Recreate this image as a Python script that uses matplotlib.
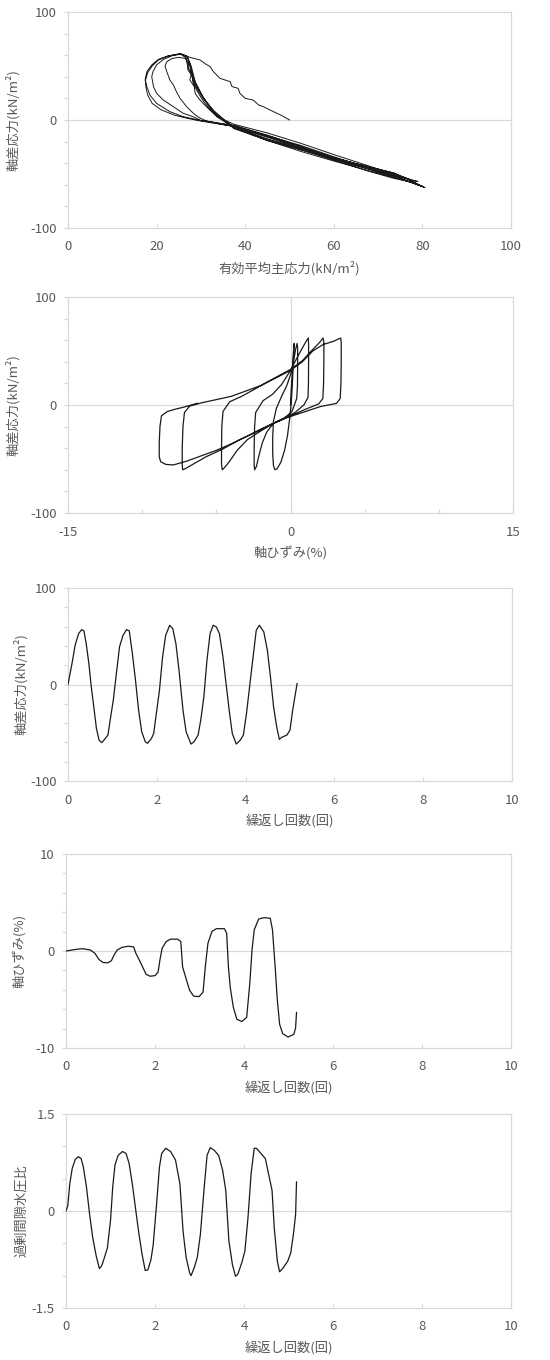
import numpy as np
import matplotlib
matplotlib.use('Agg')
import matplotlib.pyplot as plt

plt.rcParams['font.family'] = ['Noto Sans CJK JP', 'DejaVu Sans']

# --- cyclic triaxial test ---

# effective mean principal stress p' vs deviator stress q (stress path)
p_path = [50, 48.3, 46.4, 44.1, 43, 41.8, 40, 38.8, 38.4, 37, 36.6, 34.3, 33.5, 32.8, 32.1, 31, 29.8, 27.5, 25.7,
          26.5, 27.2, 27, 27.8, 27.5, 28.5, 28.7, 29.5, 30.5, 32, 33.6, 37.5, 45, 52.5, 60, 67.5, 73.5, 77.2, 78.5, 79,
          77, 73.5, 67.5, 60, 52.5, 45, 37.5, 33.5, 31, 29.5, 28.3, 26.8, 25.3, 24.5, 23.8, 23, 22.3, 21.9, 22.3, 23.5, 25,
          26.5, 27.5, 28, 28.2, 29, 30, 31, 32.5, 34, 37.5, 45, 52.5, 60, 67.5, 73.5, 77, 79.5, 80,
          78.5, 73.5, 67.5, 60, 52.5, 45, 37.5, 33, 30, 28.3, 26, 23.8, 21.5, 20, 19.3, 18.9, 19.2, 20, 21.5, 23.5, 25.5,
          27, 27.8, 28.3, 28.8, 29.8, 31, 32.5, 34.5, 37.5, 45, 52.5, 60, 67.5, 73.5, 77, 79.8, 80.6,
          79.5, 77, 73.5, 67.5, 60, 52.5, 45, 37.5, 33, 30, 27, 24, 21, 19, 18, 17.6, 17.5, 18, 19, 20.4, 22.6, 25.3,
          26.8, 27.5, 28, 28.5, 29.5, 30.5, 32, 33.6, 37.5, 45, 52.5, 60, 67.5, 73.5, 77.2, 79.8, 80.3,
          79, 76.5, 73.5, 67.5, 60, 52.5, 45, 37.5, 32.8, 29.8, 26, 23, 20, 18.5, 17.8, 17.4, 17.8, 18.9, 20.4, 22.6, 25.3,
          26.6, 27, 27.8, 28.3, 29.3, 30.5, 32, 33.5, 37.5, 45, 52.5, 60, 67.5, 73.5, 76.5, 78, 79,
          77.5, 73.5, 67.5, 60, 52.5, 45, 37.5, 33, 30.5, 28.5]
q_path = [0, 4, 7.7, 12.3, 14, 18.5, 20, 24.7, 29.3, 31, 35.5, 38.6, 42, 44.8, 49.4, 52, 55.6, 58, 61.1,
          58, 52, 47, 42, 37, 31, 24.7, 20, 15.4, 9.3, 3.1, -4, -12, -21.5, -32, -42, -50, -55, -58.5, -60,
          -57, -54, -47, -37, -26.5, -16, -6, -3, -0.5, 2.5, 6.2, 12.3, 20, 26, 32.4, 37, 44.8, 50, 54, 57, 58,
          57, 50, 42, 35, 28, 21, 15, 8, 2, -7.5, -18, -26.5, -35, -43, -49, -55.5, -60.5, -61.5,
          -59, -53, -45, -36, -25.5, -15, -6, -2.5, -0.5, 3, 6.2, 12.3, 18.5, 24.7, 30.9, 40, 45, 51, 56, 59.5, 61,
          58.5, 50, 42, 34, 26, 18, 10, 3, -8, -19, -27.5, -36, -44, -51, -57, -61, -62.7,
          -61, -57, -52, -44, -34, -23.5, -14.5, -6, -3, -1, 1.5, 4.5, 9.5, 15.4, 23, 30, 37, 44, 50, 55.5, 59.3, 61.5,
          59, 52, 44, 37, 29, 21, 13, 5, -7, -19, -29, -38, -46.5, -53, -57.5, -61.2, -62,
          -60, -54, -49, -43, -35, -24.5, -14, -5, -2, -0.3, 3.1, 7.7, 15.4, 23, 30.9, 37, 44.8, 50.9, 56.2, 59.3, 61.1,
          58, 50, 43, 36, 28, 20, 12, 5, -6.5, -17.5, -27.5, -37, -45, -51, -54.5, -56, -57,
          -55.5, -50, -43.5, -35.5, -25.5, -15, -5.5, -2.5, -0.8, 0.6]

# axial strain vs deviator stress (hysteresis loops)
eps_loop = [0, 0.05, 0.12, 0.18, 0.22, 0.25,
            0.22, 0.18, 0.12, 0.05, -0.05, -0.2, -0.4, -0.65, -0.9, -1.05,
            -1.15, -1.2, -1.2, -1.15, -0.95, -0.6, -0.25, 0, 0.2, 0.35, 0.45,
            0.48, 0.48, 0.47, 0.42, 0.1, -0.4, -1.15, -1.6, -1.9, -2.15, -2.3, -2.42,
            -2.45, -2.45, -2.42, -2.35, -1.85, -1.2, -0.6, 0, 0.45, 0.85, 1.1, 1.2,
            1.22, 1.22, 1.21, 1.18, 0.9, 0.3, -0.4, -1.15, -2.0, -2.9, -3.6, -4.1, -4.45, -4.6,
            -4.65, -4.65, -4.63, -4.55, -4.1, -3.3, -2.5, -1.6, -0.8, 0, 0.8, 1.4, 1.9, 2.2,
            2.25, 2.25, 2.23, 2.18, 1.9, 1.0, 0, -1.15, -2.3, -3.4, -4.6, -5.7, -6.6, -7.1, -7.27,
            -7.3, -7.3, -7.25, -7.15, -6.8, -6.0, -5.0, -4.0, -3.0, -2.0, -1.0, 0, 0.8, 1.5, 2.2, 2.9, 3.39,
            3.42, 3.42, 3.4, 3.35, 3.1, 2.0, 0.65, -0.3, -1.15, -2.1, -2.95, -4.0, -5.0, -6.0, -7.0, -7.9, -8.4, -8.75,
            -8.85, -8.85, -8.8, -8.7, -8.3, -7.8, -7.2, -6.28]
q_loop = [0, 15, 30, 45, 53, 57,
          50, 35, 18, 2, -12, -28, -42, -53, -59, -60,
          -56, -45, -30, -15, -3, 8, 18, 28, 40, 52, 57,
          52, 35, 18, 6, -6, -12, -17, -25, -35, -48, -57, -60,
          -55, -40, -20, -7, 4, 10, 19, 32, 44, 54, 60, 62,
          56, 40, 20, 7, 0, -7, -12, -17, -24, -32, -42, -52, -58, -60,
          -55, -40, -20, -6, 3, 8, 14, 21, 27, 33, 41, 50, 57, 62,
          58, 40, 20, 6, 1, -4, -10, -17, -25, -32, -41, -48, -55, -59, -60,
          -55, -40, -20, -7, -1, 2, 5, 8, 13, 18, 25, 32, 40, 50, 56, 59, 62,
          57, 40, 20, 6, 1.5, -1.5, -7.7, -12, -17, -23, -29, -36, -42, -47, -52, -55.5, -55, -52.6,
          -48, -35, -20, -10, -6, -4, -2, 1.6]

# number of cycles vs deviator stress
n_q = [0, 0.09, 0.16, 0.24, 0.31, 0.36, 0.41, 0.47, 0.52, 0.58, 0.64, 0.70, 0.76, 0.81, 0.90, 0.95,
       1.02, 1.09, 1.16, 1.24, 1.32, 1.38, 1.45, 1.52, 1.59, 1.66, 1.74, 1.79, 1.88, 1.93, 1.99,
       2.06, 2.13, 2.20, 2.29, 2.36, 2.43, 2.50, 2.59, 2.66, 2.77, 2.84, 2.93, 2.99,
       3.06, 3.13, 3.20, 3.27, 3.34, 3.41, 3.49, 3.56, 3.63, 3.70, 3.79, 3.88, 3.95,
       4.02, 4.09, 4.16, 4.24, 4.31, 4.41, 4.49, 4.56, 4.63, 4.70, 4.76, 4.81, 4.93, 5.00, 5.06, 5.11, 5.16]
q_n = [0, 21.7, 40.7, 52.8, 56.9, 55.5, 42.4, 21.7, -0.7, -23, -45.5, -57.6, -60.3, -57.6, -52.4, -36.9,
       -16.2, 11.4, 39, 51, 56.9, 55.5, 32, 4.5, -26.6, -49, -59.3, -61, -55.9, -50.7, -30,
       -5.9, 28.6, 51, 61.4, 57.9, 42.4, 14.8, -26.6, -49, -61.7, -59.3, -52.4, -36.9,
       -12.8, 25.2, 52.8, 61.4, 59.7, 52.8, 28.6, 1, -26.6, -50.7, -61.7, -57.6, -52.4,
       -30, -2.4, 25.2, 56.2, 61.4, 54.5, 35.5, 7.9, -23, -43.8, -56.9, -54.8, -52.4, -47.2, -26.6, -12.8, 1]

# number of cycles vs axial strain (%)
n_eps = [0, 0.23, 0.37, 0.55, 0.65, 0.74, 0.83, 0.94, 1.02, 1.08, 1.15, 1.26, 1.40, 1.52, 1.57, 1.63,
         1.72, 1.80, 1.89, 2.00, 2.07, 2.11, 2.16, 2.25, 2.35, 2.51, 2.58, 2.62, 2.71, 2.78, 2.87, 2.99,
         3.08, 3.13, 3.19, 3.28, 3.38, 3.56, 3.61, 3.65, 3.69, 3.76, 3.84, 3.95, 4.06, 4.13, 4.18, 4.23,
         4.33, 4.45, 4.59, 4.64, 4.70, 4.75, 4.80, 4.87, 4.99, 5.12, 5.16, 5.18]
eps_n = [0, 0.17, 0.24, 0.1, -0.24, -0.87, -1.18, -1.22, -1.0, -0.42, 0.1, 0.38, 0.49, 0.42, -0.24, -0.77,
         -1.63, -2.4, -2.6, -2.54, -2.16, -0.94, 0.28, 0.97, 1.22, 1.22, 0.97, -1.63, -3.03, -4.07, -4.66, -4.7,
         -4.24, -1.63, 0.8, 2.02, 2.3, 2.3, 1.84, -1.63, -3.72, -5.8, -7.03, -7.27, -6.85, -3.37, 0.1, 2.19,
         3.3, 3.44, 3.37, 2.19, -1.63, -5.11, -7.55, -8.52, -8.87, -8.59, -7.9, -6.33]

# number of cycles vs excess pore water pressure ratio
n_ru = [0, 0.04, 0.085, 0.14, 0.21, 0.28, 0.34, 0.39, 0.46, 0.53, 0.60, 0.68, 0.75, 0.80, 0.85, 0.93,
        1.0, 1.05, 1.10, 1.17, 1.27, 1.35, 1.42, 1.49, 1.57, 1.64, 1.71, 1.78, 1.84, 1.91, 1.96,
        2.03, 2.10, 2.15, 2.24, 2.35, 2.46, 2.56, 2.63, 2.70, 2.78, 2.81, 2.88, 2.95,
        3.02, 3.10, 3.17, 3.24, 3.33, 3.43, 3.52, 3.59, 3.66, 3.74, 3.81, 3.86, 3.95,
        4.02, 4.09, 4.16, 4.23, 4.28, 4.38, 4.48, 4.55, 4.63, 4.68, 4.75, 4.80, 4.88, 4.98, 5.05, 5.11, 5.16, 5.18]
ru_n = [0, 0.08, 0.42, 0.66, 0.80, 0.84, 0.81, 0.68, 0.37, -0.05, -0.41, -0.70, -0.89, -0.85, -0.75, -0.57,
        -0.15, 0.37, 0.71, 0.86, 0.92, 0.89, 0.73, 0.42, 0.0, -0.36, -0.67, -0.92, -0.91, -0.75, -0.52,
        0.06, 0.68, 0.89, 0.97, 0.92, 0.79, 0.42, -0.31, -0.72, -0.96, -1.0, -0.88, -0.72,
        -0.36, 0.32, 0.86, 0.98, 0.94, 0.86, 0.63, 0.32, -0.46, -0.83, -1.01, -0.98, -0.80,
        -0.62, -0.10, 0.58, 0.97, 0.97, 0.89, 0.81, 0.58, 0.32, -0.26, -0.78, -0.94, -0.88, -0.78, -0.65, -0.36, -0.05, 0.45]

# --- figure layout (pixel boxes: left, right, top, bottom) ---
W, H = 550, 1360
boxes = [(68, 511, 12, 228), (68, 513, 297, 513), (68, 512, 588, 781), (66, 511, 854, 1048), (66, 511, 1114, 1308)]
ylabel_x = [20, 20, 28, 27, 28]   # right edge of the rotated y label, px

fig = plt.figure(figsize=(W / 100, H / 100), dpi=100)
axes = []
for (l, r, t, b) in boxes:
    axes.append(fig.add_axes([l / W, 1 - b / H, (r - l) / W, (b - t) / H]))

grey = '#d9d9d9'
txt = '#595959'
fs = 9.5


def style(ax, box, lx, xlim, xticks, xlabels, ylim, yticks, ylabels, xlabel, ylabel):
    l, r, t, b = box
    ax.set_xlim(xlim)
    ax.set_ylim(ylim)
    ax.set_xticks(xticks)
    ax.set_xticklabels(xlabels)
    ax.set_yticks(yticks)
    ax.set_yticklabels(ylabels)
    for s in ax.spines.values():
        s.set_color(grey)
        s.set_linewidth(0.9)
    ax.axhline(0, color=grey, lw=0.9, zorder=1)
    ax.tick_params(length=3, width=0.8, color=grey, labelcolor=txt, labelsize=fs)
    ax.tick_params(axis='x', direction='in', pad=9)
    ax.tick_params(axis='y', direction='out', pad=5)
    ax.set_xlabel(xlabel, color=txt, fontsize=fs)
    ax.set_ylabel(ylabel, color=txt, fontsize=fs)
    ax.xaxis.set_label_coords(0.5, -33 / (b - t))
    ax.yaxis.set_label_coords((lx - l) / (r - l), 0.5)


def sparse(vals, keep):
    return [(f'{v:g}' if v in keep else '') for v in vals]


q_ticks = list(range(-100, 101, 20))
n_ticks = list(range(0, 11, 2))
lw = 0.9
lc = '#1a1a1a'

ax = axes[0]
ax.plot(p_path, q_path, color=lc, lw=0.7, zorder=3)
style(ax, boxes[0], ylabel_x[0], (0, 100), list(range(0, 101, 20)), [str(v) for v in range(0, 101, 20)],
      (-100, 100), q_ticks, sparse(q_ticks, [-100, 0, 100]), '有効平均主応力(kN/m²)', '軸差応力(kN/m²)')

ax = axes[1]
ax.plot(eps_loop, q_loop, color=lc, lw=lw, zorder=3)
ax.axvline(0, color=grey, lw=0.9, zorder=1)
e_ticks = list(range(-15, 16, 5))
style(ax, boxes[1], ylabel_x[1], (-15, 15), e_ticks, sparse(e_ticks, [-15, 0, 15]),
      (-100, 100), q_ticks, sparse(q_ticks, [-100, 0, 100]), '軸ひずみ(%)', '軸差応力(kN/m²)')

ax = axes[2]
ax.plot(n_q, q_n, color=lc, lw=lw, zorder=3)
style(ax, boxes[2], ylabel_x[2], (0, 10), n_ticks, [str(v) for v in n_ticks],
      (-100, 100), q_ticks, sparse(q_ticks, [-100, 0, 100]), '繰返し回数(回)', '軸差応力(kN/m²)')

ax = axes[3]
ax.plot(n_eps, eps_n, color=lc, lw=lw, zorder=3)
s_ticks = list(range(-10, 11, 2))
style(ax, boxes[3], ylabel_x[3], (0, 10), n_ticks, [str(v) for v in n_ticks],
      (-10, 10), s_ticks, sparse(s_ticks, [-10, 0, 10]), '繰返し回数(回)', '軸ひずみ(%)')

ax = axes[4]
ax.plot(n_ru, ru_n, color=lc, lw=lw, zorder=3)
r_ticks = [-1.5, -1.0, -0.5, 0, 0.5, 1.0, 1.5]
style(ax, boxes[4], ylabel_x[4], (0, 10), n_ticks, [str(v) for v in n_ticks],
      (-1.5, 1.5), r_ticks, sparse(r_ticks, [-1.5, 0, 1.5]), '繰返し回数(回)', '過剰間隙水圧比')

fig.savefig('out.png', dpi=100, facecolor='white')
